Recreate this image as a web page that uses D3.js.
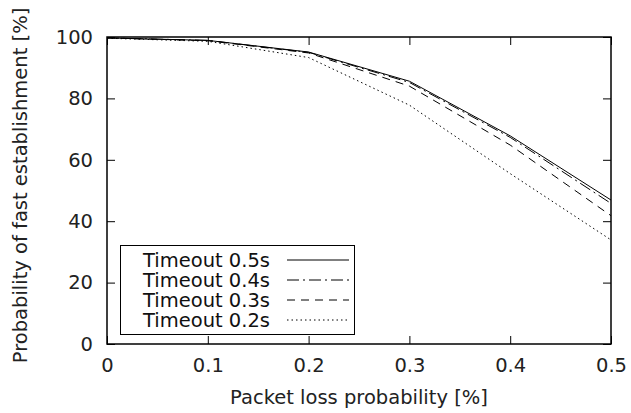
<!DOCTYPE html>
<html>
<head>
<meta charset="utf-8">
<script src="https://cdn.jsdelivr.net/npm/d3@7"></script>
<style>
  body { margin: 0; background: #fff; }
  svg { display: block; font-family: "DejaVu Sans", sans-serif; }
</style>
</head>
<body>
<svg id="chart"></svg>
<script>
// packet loss probability [%]
var lossValues = [0, 0.1, 0.2, 0.3, 0.4, 0.5];
// probability of fast establishment [%] per timeout
var timeout05 = [99.7, 98.9, 95.1, 85.6, 67.8, 46.9];
var timeout04 = [99.7, 98.9, 95.0, 85.2, 67.3, 45.8];
var timeout03 = [99.7, 98.8, 94.8, 84.0, 64.8, 41.8];
var timeout02 = [99.6, 98.6, 93.3, 77.8, 55.5, 33.9];
var seriesNames = ["Timeout 0.5s", "Timeout 0.4s", "Timeout 0.3s", "Timeout 0.2s"];
var xTicks = [0, 0.1, 0.2, 0.3, 0.4, 0.5];
var yTicks = [0, 20, 40, 60, 80, 100];

var width = 631,
    height = 413,
    plotL = 107, plotR = 611, plotT = 37, plotB = 344,
    fontSize = "19.5px";

var dashes = ["none", "12,4,2,4", "8,6", "1.5,3"];

var series = [timeout05, timeout04, timeout03, timeout02].map(function (vals, i) {
    return {
        name: seriesNames[i],
        dash: dashes[i],
        points: vals.map(function (v, j) { return [lossValues[j], v]; })
    };
});

var x = d3.scaleLinear().domain([0, 0.5]).range([plotL, plotR]);
var y = d3.scaleLinear().domain([0, 100]).range([plotB, plotT]);

var svg = d3.select("#chart")
    .attr("width", width)
    .attr("height", height);

var line = d3.line()
    .x(function (d) { return x(d[0]); })
    .y(function (d) { return y(d[1]); });

// inward ticks on all four sides
var tickLen = 8;
var fmtX = function (d) { return d === 0 ? "0" : d3.format(".1f")(d); };

svg.append("g")
    .attr("transform", "translate(0," + plotB + ")")
    .call(d3.axisBottom(x).tickValues(xTicks).tickSize(-tickLen).tickPadding(14).tickFormat(fmtX))
    .call(function (g) { g.select(".domain").remove(); });

svg.append("g")
    .attr("transform", "translate(0," + plotT + ")")
    .call(d3.axisTop(x).tickValues(xTicks).tickSize(-tickLen).tickFormat(""))
    .call(function (g) { g.select(".domain").remove(); });

svg.append("g")
    .attr("transform", "translate(" + plotL + ",0)")
    .call(d3.axisLeft(y).tickValues(yTicks).tickSize(-tickLen).tickPadding(14))
    .call(function (g) { g.select(".domain").remove(); });

svg.append("g")
    .attr("transform", "translate(" + plotR + ",0)")
    .call(d3.axisRight(y).tickValues(yTicks).tickSize(-tickLen).tickFormat(""))
    .call(function (g) { g.select(".domain").remove(); });

svg.selectAll(".tick line").attr("stroke", "#000").attr("stroke-width", 1);
svg.selectAll(".tick text")
    .attr("fill", "#222")
    .style("font-size", fontSize)
    .style("font-family", "DejaVu Sans, sans-serif");

// the data lines
svg.append("g")
    .selectAll("path")
    .data(series)
    .enter()
    .append("path")
    .attr("d", function (d) { return line(d.points); })
    .attr("fill", "none")
    .attr("stroke", "#000")
    .attr("stroke-width", 1)
    .attr("stroke-dasharray", function (d) { return d.dash; });

// frame
svg.append("rect")
    .attr("x", plotL)
    .attr("y", plotT)
    .attr("width", plotR - plotL)
    .attr("height", plotB - plotT)
    .attr("fill", "none")
    .attr("stroke", "#000")
    .attr("stroke-width", 1.5);

// legend
var legend = svg.append("g");
legend.append("rect")
    .attr("x", 120.5).attr("y", 245.5)
    .attr("width", 234).attr("height", 89)
    .attr("fill", "#fff")
    .attr("stroke", "#000")
    .attr("stroke-width", 1);

var rows = legend.selectAll("g.row")
    .data(series)
    .enter()
    .append("g")
    .attr("class", "row")
    .attr("transform", function (d, i) { return "translate(0," + (260 + i * 20) + ")"; });

rows.append("text")
    .attr("x", 143)
    .attr("dy", "0.35em")
    .style("font-size", fontSize)
    .attr("fill", "#111")
    .text(function (d) { return d.name; });

rows.append("line")
    .attr("x1", 287).attr("x2", 349)
    .attr("stroke", "#000")
    .attr("stroke-width", 1)
    .attr("stroke-dasharray", function (d) { return d.dash; });

// axis titles
svg.append("text")
    .attr("x", (plotL + plotR) / 2)
    .attr("y", 397)
    .attr("dy", "0.35em")
    .attr("text-anchor", "middle")
    .style("font-size", fontSize)
    .attr("fill", "#222")
    .text("Packet loss probability [%]");

svg.append("text")
    .attr("transform", "translate(20," + ((plotT + plotB) / 2 - 5) + ") rotate(-90)")
    .attr("dy", "0.35em")
    .attr("text-anchor", "middle")
    .style("font-size", fontSize)
    .attr("fill", "#222")
    .text("Probability of fast establishment [%]");
</script>
</body>
</html>
